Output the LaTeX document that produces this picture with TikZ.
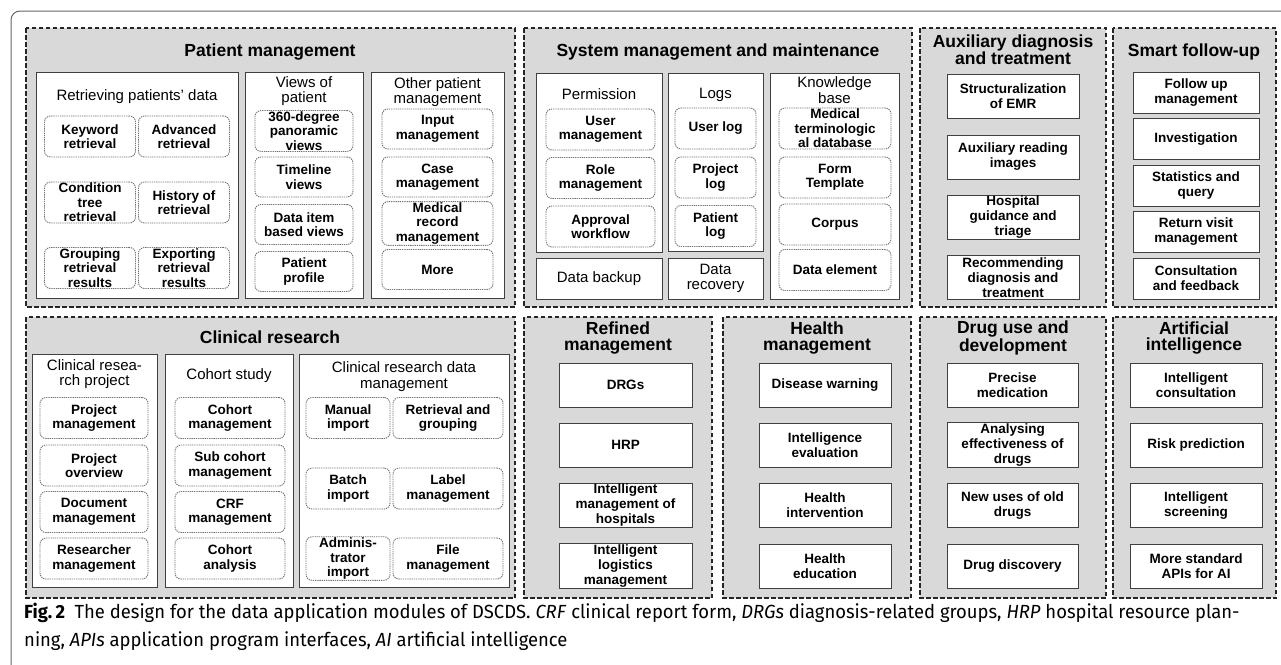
\documentclass[tikz,border=0pt]{standalone}
\usepackage{fontspec}
\setmainfont{Liberation Sans}
\newfontfamily\capfont[FakeStretch=0.97]{Fira Sans}
\usetikzlibrary{positioning}
\definecolor{panelgray}{HTML}{D9D9D9}

\begin{document}
\begin{tikzpicture}[x=1pt, y=-1pt,
    panel/.style={draw=black!85, dash pattern=on 4.5pt off 2.5pt, line width=1.3pt, fill=panelgray},
    grp/.style={draw=black!75, line width=1pt, fill=white, inner sep=0pt},
    item/.style={draw=black!55, dash pattern=on 1.3pt off 0.9pt, line width=0.9pt, rounded corners=6pt, fill=white, align=center, inner sep=1pt, font=\bfseries\fontsize{13.5}{14.5}\selectfont},
    card/.style={draw=black!75, line width=1pt, fill=white, align=center, inner sep=1pt, minimum height=44pt, font=\bfseries\fontsize{13.5}{15}\selectfont},
    ttl/.style={align=center, inner sep=0pt, font=\bfseries\fontsize{17.5}{15.5}\selectfont},
    hdr/.style={align=center, inner sep=0pt, font=\fontsize{15}{15.5}\selectfont},
    rv/.style={item, minimum width=91pt, minimum height=41pt},
    vw/.style={item, minimum width=98pt, minimum height=40pt},
    ot/.style={item, minimum width=111pt, minimum height=40pt},
    pm/.style={item, minimum width=109pt, minimum height=41pt},
    lg/.style={item, minimum width=81pt, minimum height=41pt},
    kb/.style={item, minimum width=112pt, minimum height=41pt},
    pj/.style={item, minimum width=108pt, minimum height=41pt},
    ch/.style={item, minimum width=110pt, minimum height=41pt},
    dl/.style={item, minimum width=84pt, minimum height=41pt},
    dr/.style={item, minimum width=110pt, minimum height=41pt}
]
\useasboundingbox (0,0) rectangle (1281,664);
\begin{scope}
  \clip (0,0) rectangle (1281,664);
  \draw[black!60, line width=1pt, rounded corners=9pt] (11,11) rectangle (1320,700);
\end{scope}

% top row panels
\draw[panel] (26,28) rectangle (515,307);
\draw[panel] (524,28) rectangle (912,307);
\draw[panel] (920,28) rectangle (1106,307);
\draw[panel] (1113,28) rectangle (1276,307);
% bottom row panels
\draw[panel] (26,317) rectangle (515,598);
\draw[panel] (524,317) rectangle (712,598);
\draw[panel] (723,317) rectangle (911,598);
\draw[panel] (920,317) rectangle (1106,598);
\draw[panel] (1113,317) rectangle (1276,598);

% patient management
\node[ttl] (pmt) at (270,52) {Patient management};
\node[grp, minimum width=202pt, minimum height=226pt] (retr) at (137,185) {};
\node[grp, minimum width=118pt, minimum height=226pt] (view) at (304,185) {};
\node[grp, minimum width=133pt, minimum height=226pt] (othr) at (437.5,185) {};
\node[hdr] (retrh) at (137,97) {Retrieving patients' data};
\node[hdr] (viewh) at (304,91) {Views of\\patient};
\node[hdr] (othrh) at (437.5,92) {Other patient\\management};
\node[rv] (kw) at (90,136.5) {Keyword\\retrieval};
\node[rv] (adv) at (184,136.5) {Advanced\\retrieval};
\node[rv] (cond) at (90,202.5) {Condition\\tree\\retrieval};
\node[rv] (hist) at (184,202.5) {History of\\retrieval};
\node[rv] (grpr) at (90,268) {Grouping\\retrieval\\results};
\node[rv] (expr) at (184,268) {Exporting\\retrieval\\results};
\node[vw] (pano) at (304,131) {360-degree\\panoramic\\views};
\node[vw] (tline) at (304,177) {Timeline\\views};
\node[vw] (ditem) at (304,224.5) {Data item\\based views};
\node[vw] (prof) at (304,271.5) {Patient\\profile};
\node[ot] (inp) at (437.5,129) {Input\\management};
\node[ot] (case) at (437.5,177) {Case\\management};
\node[ot] (mrec) at (437.5,223.5) {Medical\\record\\management};
\node[ot] (more) at (437.5,269.5) {More};

% system management and maintenance
\node[ttl] (smt) at (718,52) {System management and maintenance};
\node[grp, minimum width=126pt, minimum height=179pt] (perm) at (599,162.5) {};
\node[grp, minimum width=95pt, minimum height=178pt] (logs) at (715.5,162) {};
\node[grp, minimum width=129pt, minimum height=226pt] (know) at (834.5,186) {};
\node[grp, hdr, minimum width=126pt, minimum height=41pt] (bkp) at (599,278.5) {Data backup};
\node[grp, hdr, minimum width=95pt, minimum height=41pt] (recv) at (715.5,278.5) {Data\\recovery};
\node[hdr] (permh) at (599,94) {Permission};
\node[hdr] (logsh) at (715.5,95) {Logs};
\node[hdr] (knowh) at (834.5,90) {Knowledge\\base};
\node[pm] (usr) at (600.5,129.5) {User\\management};
\node[pm] (role) at (600.5,178) {Role\\management};
\node[pm] (appr) at (600.5,226.5) {Approval\\workflow};
\node[lg] (ulog) at (715.5,128.5) {User log};
\node[lg] (plog) at (715.5,177.5) {Project\\log};
\node[lg] (patlog) at (715.5,226) {Patient\\log};
\node[kb] (term) at (835,128.5) {Medical\\terminologic\\al database};
\node[kb] (form) at (835,177.5) {Form\\Template};
\node[kb] (corp) at (835,224.5) {Corpus};
\node[kb] (delem) at (835,270) {Data element};

% auxiliary diagnosis and treatment
\node[ttl] (auxt) at (1013,50) {Auxiliary diagnosis\\and treatment};
\node[card, minimum width=132pt] (emr) at (1013,96) {Structuralization\\of EMR};
\node[card, minimum width=132pt] (img) at (1013,157) {Auxiliary reading\\images};
\node[card, minimum width=132pt] (triage) at (1013,217.5) {Hospital\\guidance and\\triage};
\node[card, minimum width=132pt] (recom) at (1013,277.5) {Recommending\\diagnosis and\\treatment};

% smart follow-up
\node[ttl] (fut) at (1194,52) {Smart follow-up};
\node[card, minimum width=126pt, minimum height=41pt] (fum) at (1196,92.5) {Follow up\\management};
\node[card, minimum width=126pt, minimum height=41pt] (inv) at (1196,139) {Investigation};
\node[card, minimum width=126pt, minimum height=41pt] (stat) at (1196,185.5) {Statistics and\\query};
\node[card, minimum width=126pt, minimum height=41pt] (ret) at (1196,232) {Return visit\\management};
\node[card, minimum width=126pt, minimum height=41pt] (cons) at (1196,278.5) {Consultation\\and feedback};

% clinical research
\node[ttl] (crt) at (270,337) {Clinical research};
\node[grp, minimum width=125pt, minimum height=233pt] (proj) at (94.5,470.5) {};
\node[grp, minimum width=128pt, minimum height=233pt] (coh) at (229,470.5) {};
\node[grp, minimum width=210pt, minimum height=233pt] (crdm) at (404,470.5) {};
\node[hdr] (projh) at (94.5,374) {Clinical resea-\\rch project};
\node[hdr] (cohh) at (229,376) {Cohort study};
\node[hdr] (crdmh) at (404,376.5) {Clinical research data\\management};
\node[pj] (pmg) at (94,418) {Project\\management};
\node[pj] (pov) at (94,465.5) {Project\\overview};
\node[pj] (doc) at (94,512) {Document\\management};
\node[pj] (rsch) at (94,558.5) {Researcher\\management};
\node[ch] (cmg) at (230,418) {Cohort\\management};
\node[ch] (sub) at (230,465.5) {Sub cohort\\management};
\node[ch] (crf) at (230,512) {CRF\\management};
\node[ch] (can) at (230,558.5) {Cohort\\analysis};
\node[dl] (man) at (348,418) {Manual\\import};
\node[dl] (bat) at (348,488.5) {Batch\\import};
\node[dl] (adm) at (348,558.5) {Adminis-\\trator\\import};
\node[dr] (rgp) at (448,418) {Retrieval and\\grouping};
\node[dr] (lbl) at (448,488.5) {Label\\management};
\node[dr] (file) at (448,558.5) {File\\management};

% refined management
\node[ttl] (reft) at (618,338) {Refined\\management};
\node[card, minimum width=133pt] (drg) at (625.5,385) {DRGs};
\node[card, minimum width=133pt] (hrp) at (625.5,445) {HRP};
\node[card, minimum width=133pt] (hosp) at (625.5,505.5) {Intelligent\\management of\\hospitals};
\node[card, minimum width=133pt] (logi) at (625.5,566) {Intelligent\\logistics\\management};

% health management
\node[ttl] (hlt) at (817,338) {Health\\management};
\node[card, minimum width=132pt] (warn) at (825,385) {Disease warning};
\node[card, minimum width=132pt] (eval) at (825,445) {Intelligence\\evaluation};
\node[card, minimum width=132pt] (intv) at (825,505.5) {Health\\intervention};
\node[card, minimum width=132pt] (edu) at (825,566) {Health\\education};

% drug use and development
\node[ttl] (drt) at (1013,338) {Drug use and\\development};
\node[card, minimum width=131pt] (prec) at (1012.5,385) {Precise\\medication};
\node[card, minimum width=131pt] (eff) at (1012.5,445) {Analysing\\effectiveness of\\drugs};
\node[card, minimum width=131pt] (reuse) at (1012.5,505.5) {New uses of old\\drugs};
\node[card, minimum width=131pt] (disc) at (1012.5,566) {Drug discovery};

% artificial intelligence
\node[ttl] (ait) at (1194,338) {Artificial\\intelligence};
\node[card, minimum width=132pt] (icons) at (1196,385) {Intelligent\\consultation};
\node[card, minimum width=132pt] (risk) at (1196,445) {Risk prediction};
\node[card, minimum width=132pt] (scr) at (1196,505.5) {Intelligent\\screening};
\node[card, minimum width=132pt] (api) at (1196,566) {More standard\\APIs for AI};

% caption
\node[anchor=base west, inner sep=0pt, font=\capfont\fontsize{19}{28}\selectfont] (cap1) at (24,618)
  {\textbf{Fig.\,2}\enspace The design for the data application modules of DSCDS. \textit{CRF} clinical report form, \textit{DRGs} diagnosis-related groups, \textit{HRP} hospital resource plan-};
\node[anchor=base west, inner sep=0pt, font=\capfont\fontsize{19}{28}\selectfont] (cap2) at (24,646)
  {ning, \textit{APIs} application program interfaces, \textit{AI} artificial intelligence};
\end{tikzpicture}
\end{document}
